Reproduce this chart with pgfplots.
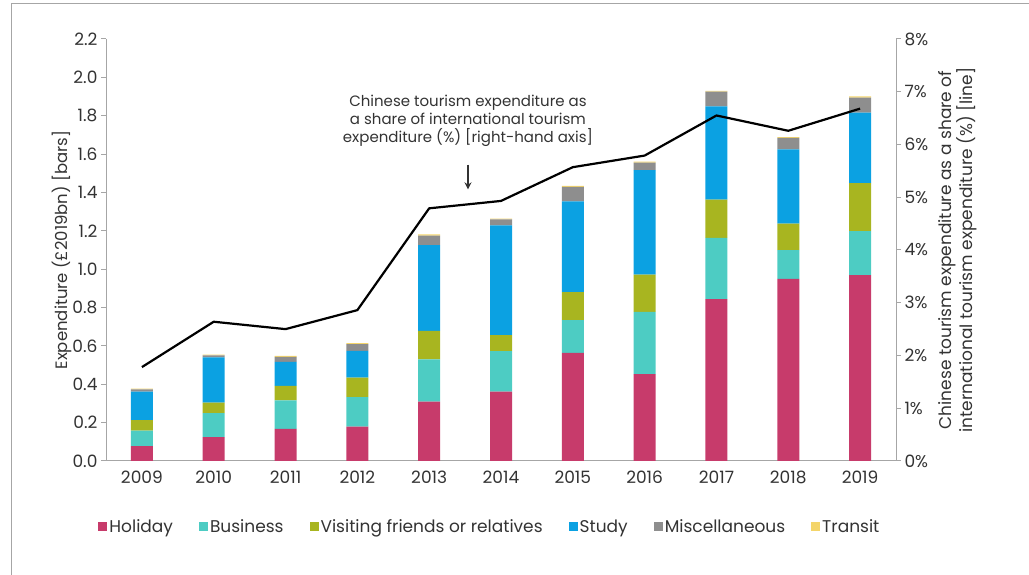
\documentclass[border=0pt]{standalone}
\usepackage{pgfplots}
\pgfplotsset{compat=1.18}
\usepackage{pgfplotstable}
\usetikzlibrary{arrows.meta}
\usepackage{fontspec}
\setmainfont{Poppins}
\definecolor{hol}{HTML}{C73B6B}
\definecolor{bus}{HTML}{4DCCC3}
\definecolor{vfr}{HTML}{A8B520}
\definecolor{stu}{HTML}{0BA1E2}
\definecolor{misc}{HTML}{8E8E8E}
\definecolor{tra}{HTML}{F4D56A}
\definecolor{axgrey}{HTML}{A6A6A6}
\definecolor{txt}{HTML}{333333}

\pgfplotstableread{
x H B V S M T L
0  0.078 0.080 0.055 0.148 0.012 0.004 1.78
1  0.125 0.125 0.054 0.236 0.010 0.005 2.64
2  0.167 0.149 0.076 0.125 0.026 0.005 2.50
3  0.179 0.154 0.101 0.140 0.035 0.006 2.86
4  0.309 0.221 0.148 0.448 0.049 0.006 4.79
5  0.361 0.212 0.083 0.573 0.030 0.005 4.93
6  0.564 0.170 0.146 0.474 0.075 0.005 5.57
7  0.453 0.325 0.194 0.544 0.040 0.005 5.79
8  0.844 0.319 0.200 0.486 0.076 0.005 6.55
9  0.950 0.149 0.139 0.387 0.059 0.005 6.26
10 0.969 0.230 0.250 0.367 0.078 0.007 6.68
}\data

\begin{document}
\begin{tikzpicture}
\path[use as bounding box] (0,0) rectangle (1029pt,575pt);
\draw[axgrey, line width=1pt] (11pt,0) -- (11pt,571pt) -- (1029pt,571pt);
\begin{axis}[
  at={(106pt,114pt)}, anchor=south west, scale only axis,
  width=790pt, height=422pt,
  xmin=-0.5, xmax=10.5, ymin=0, ymax=2.2,
  ybar stacked, bar width=22pt,
  xtick={0,...,10},
  xticklabels={2009,2010,2011,2012,2013,2014,2015,2016,2017,2018,2019},
  ytick={0,0.2,0.4,0.6,0.8,1.0,1.2,1.4,1.6,1.8,2.0,2.2},
  yticklabel style={/pgf/number format/.cd, fixed, fixed zerofill, precision=1, assume math mode=true},
  axis x line*=bottom, axis y line*=left,
  axis line style={axgrey, line width=1pt},
  x axis line style={-}, y axis line style={-},
  tick align=outside, major tick length=5pt,
  ytick style={axgrey, line width=1pt},
  xtick style={draw=none},
  tick label style={font=\fontsize{17}{20}\selectfont, text=txt},
  xticklabel style={yshift=-1pt},
  ylabel={Expenditure (£2019bn) [bars]},
  ylabel style={at={(axis description cs:-0.056,0.5)}, anchor=center, font=\fontsize{16.5}{19}\selectfont, text=txt},
  legend style={at={(axis description cs:0.486,-0.156)}, anchor=center, draw=none, fill=none,
    legend columns=6, font=\fontsize{17}{20}\selectfont, text=txt,
    /tikz/every even column/.append style={column sep=24pt}},
  legend image code/.code={\fill[#1] (0pt,-4.5pt) rectangle (9pt,4.5pt);},
]
\addplot[fill=hol, draw=none] table[x=x,y=H]{\data};
\addlegendentry{Holiday}
\addplot[fill=bus, draw=none] table[x=x,y=B]{\data};
\addlegendentry{Business}
\addplot[fill=vfr, draw=none] table[x=x,y=V]{\data};
\addlegendentry{Visiting friends or relatives}
\addplot[fill=stu, draw=none] table[x=x,y=S]{\data};
\addlegendentry{Study}
\addplot[fill=misc, draw=none] table[x=x,y=M]{\data};
\addlegendentry{Miscellaneous}
\addplot[fill=tra, draw=none] table[x=x,y=T]{\data};
\addlegendentry{Transit}
\end{axis}
\begin{axis}[
  at={(106pt,114pt)}, anchor=south west, scale only axis,
  width=790pt, height=422pt,
  xmin=-0.5, xmax=10.5, ymin=0, ymax=8,
  axis x line=none, axis y line*=right,
  axis line style={axgrey, line width=1pt, -},
  ytick={0,1,2,3,4,5,6,7,8},
  yticklabel={\pgfmathprintnumber{\tick}\%},
  yticklabel style={/pgf/number format/assume math mode=true},
  tick align=outside, major tick length=5pt,
  ytick style={axgrey, line width=1pt},
  tick label style={font=\fontsize{17}{20}\selectfont, text=txt},
  ylabel={Chinese tourism expenditure as a share of\\international tourism expenditure (\%) [line]},
  ylabel style={at={(axis description cs:1.078,0.5)}, anchor=center, rotate=0, align=center, font=\fontsize{17}{19}\selectfont, text=txt},
]
\addplot[black, line width=2.2pt, line join=round] table[x=x,y=L]{\data};
\node[align=center, font=\fontsize{15}{18}\selectfont, text=txt] at (axis cs:4.54,6.45)
  {Chinese tourism expenditure as\\a share of international tourism\\expenditure (\%) [right-hand axis]};
\draw[-{Stealth[length=7pt,width=7pt]}, line width=1.3pt, txt] (axis cs:4.54,5.62) -- (axis cs:4.54,5.15);
\end{axis}
\end{tikzpicture}
\end{document}
